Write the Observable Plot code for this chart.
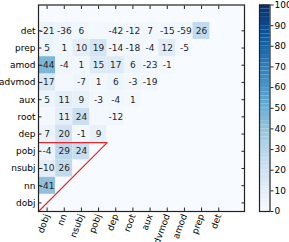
<!DOCTYPE html>
<html>
<head>
<meta charset="utf-8">
<script src="https://cdn.jsdelivr.net/npm/d3@7"></script>
<script src="https://cdn.jsdelivr.net/npm/@observablehq/plot@0.6"></script>
<style>
  html, body { margin: 0; padding: 0; background: #fff; }
  #wrap { position: relative; width: 289px; height: 242px; overflow: hidden; }
  #hm { position: absolute; left: 0; top: 0; }
  #cb { position: absolute; left: 259px; top: 0; }
  svg { overflow: visible; }
</style>
</head>
<body>
<div id="wrap"><div id="hm"></div><div id="cb"></div></div>
<script>
// Row labels, top to bottom (an unlabeled empty row sits above "det")
const rowLabels = ["det","prep","amod","advmod","aux","root","dep","pobj","nsubj","nn","dobj"];
// Column labels, left to right (an unlabeled empty column sits after "det")
const colLabels = ["dobj","nn","nsubj","pobj","dep","root","aux","advmod","amod","prep","det"];

// Printed numbers per row (by column, left to right); null = no number
const detText    = [-21,-36,6,null,-42,-12,7,-15,-59,26];
const prepText   = [5,1,10,19,-14,-18,-4,12,-5];
const amodText   = [-44,-4,1,15,17,6,-23,-1];
const advmodText = [-17,null,-7,1,6,-3,-19];
const auxText    = [5,11,9,-3,-4,1];
const rootText   = [null,11,24,null,-12];
const depText    = [7,20,-1,9];
const pobjText   = [-4,29,24];
const nsubjText  = [-10,26];
const nnText     = [-41];
const dobjText   = [];

// Cell shading values (0-100 colour scale)
const detShade    = [6,5,4,2,3,3,3,3,4,26];
const prepShade   = [5,4,10,18,3,3,2,12,2];
const amodShade   = [46,4,3,13,13,5,3,2];
const advmodShade = [15,2,5,3,5,3,3];
const auxShade    = [5,10,8,3,3,2];
const rootShade   = [2,10,22,2,3];
const depShade    = [6,19,3,8];
const pobjShade   = [5,28,23];
const nsubjShade  = [10,26];
const nnShade     = [41];
const dobjShade   = [];

// Colour bar ticks
const cbTicks = [0,10,20,30,40,50,60,70,80,90,100];

// Marked triangle corner (columns/rows up to and including "pobj")
const triangleLabel = "pobj";

const rowTexts  = [detText,prepText,amodText,advmodText,auxText,rootText,depText,pobjText,nsubjText,nnText,dobjText];
const rowShades = [detShade,prepShade,amodShade,advmodShade,auxShade,rootShade,depShade,pobjShade,nsubjShade,nnShade,dobjShade];

const nCols = colLabels.length + 1; // plus empty column
const nRows = rowLabels.length + 1; // plus empty row
const nR = rowLabels.length;

// y index from the bottom: dobj = 0 ... det = 10, empty = 11
const cells = [];
for (let r = 0; r < nRows; r++) {
  for (let c = 0; c < nCols; c++) {
    let v = 0;
    if (r < nR) {
      const k = nR - 1 - r; // index in rowLabels
      const s = rowShades[k][c];
      if (s != null) v = s;
    }
    cells.push({r, c, v});
  }
}
const texts = [];
rowTexts.forEach((arr, k) => {
  arr.forEach((t, c) => {
    if (t != null) texts.push({r: nR - 1 - k, c, t});
  });
});

const tri = colLabels.indexOf(triangleLabel) + 1;
const triangle = [{x: 0, y: tri}, {x: tri, y: tri}, {x: 0, y: 0}];

const xTicks = colLabels.map((d, i) => i + 0.5);
const yTicks = rowLabels.map((d, k) => nR - 1 - k + 0.5);
const xFmt = d => colLabels[Math.round(d - 0.5)];
const yFmt = d => rowLabels[nR - 1 - Math.round(d - 0.5)];

const font = {fontFamily: "DejaVu Sans", fontSize: "9px", background: "transparent"};
const ink = "#222";

const hm = Plot.plot({
  width: 250, height: 242,
  marginLeft: 38, marginRight: 6, marginTop: 4.5, marginBottom: 31,
  style: font,
  x: {type: "linear", domain: [0, nCols], axis: null},
  y: {type: "linear", domain: [0, nRows], axis: null},
  color: {type: "linear", scheme: "blues", domain: [0, 100]},
  marks: [
    Plot.rect(cells, {x1: d => d.c, x2: d => d.c + 1, y1: d => d.r, y2: d => d.r + 1, fill: d => d.v}),
    Plot.text(texts, {x: d => d.c + 0.5, y: d => d.r + 0.5, text: d => String(d.t), fill: "#262626", fontSize: 9}),
    Plot.line(triangle, {x: "x", y: "y", stroke: "#e8262b", strokeWidth: 1.2}),
    Plot.frame({stroke: ink, strokeWidth: 1.2}),
    Plot.axisY({anchor: "left", ticks: yTicks, tickFormat: yFmt, tickSize: 0, tickPadding: 3, label: null}),
    Plot.axisY({anchor: "left", ticks: yTicks, tickFormat: () => "", tickSize: -3.5, label: null, stroke: ink}),
    Plot.axisY({anchor: "right", ticks: yTicks, tickFormat: () => "", tickSize: -3.5, label: null, stroke: ink}),
    Plot.axisX({anchor: "top", ticks: xTicks, tickFormat: () => "", tickSize: -3.5, label: null, stroke: ink}),
    Plot.axisX({anchor: "bottom", ticks: xTicks, tickFormat: () => "", tickSize: -3.5, label: null, stroke: ink}),
    Plot.axisX({anchor: "bottom", ticks: xTicks, tickFormat: xFmt, tickSize: 0, tickPadding: 3, tickRotate: -70, label: null})
  ]
});
document.getElementById("hm").appendChild(hm);

const cb = Plot.plot({
  width: 30, height: 242,
  marginLeft: 0, marginRight: 19.5, marginTop: 4.5, marginBottom: 31,
  style: font,
  x: {type: "linear", domain: [0, 1], axis: null},
  y: {type: "linear", domain: [0, 100], axis: null},
  color: {type: "linear", scheme: "blues", domain: [0, 100]},
  marks: [
    Plot.rect(d3.range(0, 100, 2), {x1: 0, x2: 1, y1: d => d, y2: d => d + 2, fill: d => d + 1}),
    Plot.frame({stroke: ink, strokeWidth: 1.2}),
    Plot.axisY({anchor: "right", ticks: cbTicks, tickSize: 3, tickPadding: 1.5, label: null, stroke: ink})
  ]
});
document.getElementById("cb").appendChild(cb);
</script>
</body>
</html>
